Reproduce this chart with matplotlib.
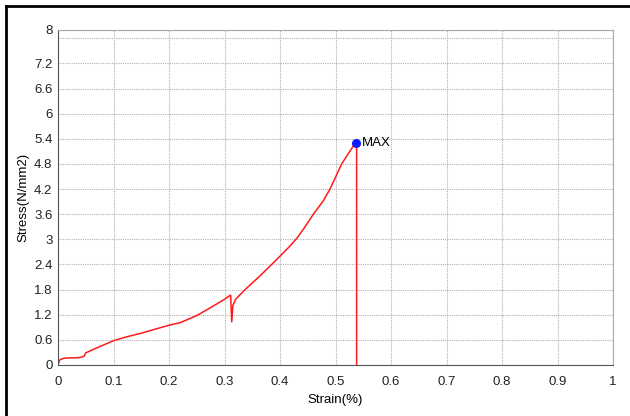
import matplotlib
matplotlib.use("Agg")
import matplotlib.pyplot as plt
from matplotlib.lines import Line2D

# 讀圖估計的應力-應變資料
strain = [0, 0.003, 0.01, 0.02, 0.03, 0.04, 0.047, 0.05, 0.07, 0.1, 0.12, 0.15,
          0.2, 0.22, 0.25, 0.28, 0.3, 0.311, 0.313, 0.315, 0.32, 0.337,
          0.36, 0.385, 0.4, 0.415, 0.43, 0.445, 0.46, 0.478, 0.48, 0.49, 0.511,
          0.533, 0.538, 0.538]
stress = [0, 0.12, 0.16, 0.17, 0.17, 0.18, 0.21, 0.29, 0.41, 0.58, 0.66, 0.76,
          0.95, 1.01, 1.18, 1.41, 1.57, 1.67, 1.03, 1.42, 1.57, 1.8,
          2.08, 2.4, 2.6, 2.8, 3.02, 3.3, 3.6, 3.92, 3.97, 4.2, 4.8,
          5.25, 5.25, 0]
max_strain = 0.536
max_stress = 5.31

xticks = [0, 0.1, 0.2, 0.3, 0.4, 0.5, 0.6, 0.7, 0.8, 0.9, 1]
xtick_labels = ['0', '0.1', '0.2', '0.3', '0.4', '0.5', '0.6', '0.7', '0.8', '0.9', '1']
yticks = [0, 0.6, 1.2, 1.8, 2.4, 3, 3.6, 4.2, 4.8, 5.4, 6, 6.6, 7.2, 7.8, 8]
ytick_labels = ['0', '0.6', '1.2', '1.8', '2.4', '3', '3.6', '4.2', '4.8', '5.4',
                '6', '6.6', '7.2', '', '8']

plt.rcParams['font.family'] = ['Liberation Sans', 'DejaVu Sans']
plt.rcParams['font.size'] = 9.5

fig = plt.figure(figsize=(6.3, 4.16), dpi=100)
ax = fig.add_axes([0.0921, 0.1226, 0.881, 0.8054])

ax.plot(strain, stress, color='#ff1a1a', linewidth=1.1)
ax.plot([max_strain], [max_stress], 'o', color='#0a1aff', markersize=5.5)
ax.text(max_strain + 0.012, max_stress, 'MAX', va='center', ha='left', fontsize=9.5)

ax.set_xlim(0, 1)
ax.set_ylim(0, 8)
ax.set_xticks(xticks)
ax.set_xticklabels(xtick_labels)
ax.set_yticks(yticks)
ax.set_yticklabels(ytick_labels)
ax.tick_params(axis='x', length=0, pad=8, colors='#222222')
ax.tick_params(axis='y', length=0, pad=4, colors='#222222')
ax.grid(True, linestyle=(0, (1, 1)), color='#b0b0b0', linewidth=0.8)

ax.spines['left'].set_color('#555555')
ax.spines['bottom'].set_color('#555555')
ax.spines['top'].set_color('#aaaaaa')
ax.spines['right'].set_color('#aaaaaa')

ax.set_xlabel('Strain(%)', labelpad=4)
ax.set_ylabel('Stress(N/mm2)')
ax.yaxis.set_label_coords(-0.052, 0.5)

# 外框 (左、上)
fig.add_artist(Line2D([6 / 630, 6 / 630], [0, 1 - 6 / 416], color='black', linewidth=2))
fig.add_artist(Line2D([6 / 630, 1], [1 - 6 / 416, 1 - 6 / 416], color='black', linewidth=2))

fig.savefig('out.png', dpi=100)
